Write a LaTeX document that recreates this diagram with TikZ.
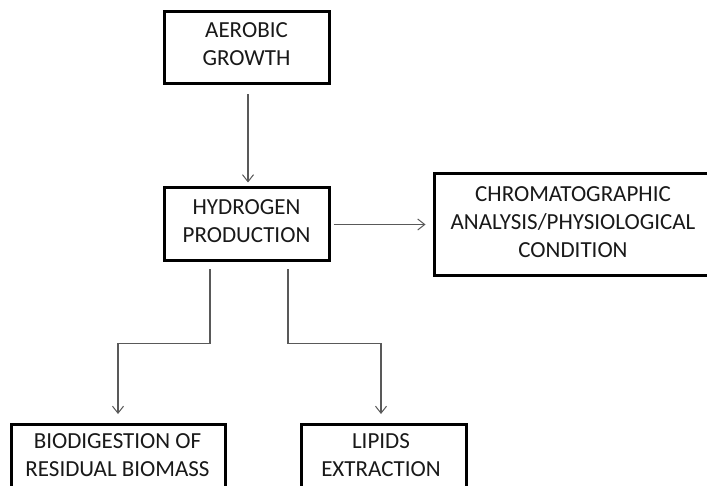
\documentclass[tikz,border=0pt]{standalone}
\usepackage{fontspec}
\setmainfont{Carlito}
\usetikzlibrary{arrows.meta}
\begin{document}
\begin{tikzpicture}[x=1pt,y=-1pt,
  box/.style={draw=black,line width=3pt,rectangle,inner sep=0pt,minimum width=#1},
  lbl/.style={align=center,inner sep=0pt,text=black!90,font=\fontsize{23}{28}\selectfont},
  conn/.style={draw=black!65,line width=1.1pt,-{Straight Barb[length=7pt,width=11pt,line width=1pt]}}
]
\useasboundingbox (0,0) rectangle (707,486);
\clip (0,0) rectangle (707,486);
\fill[white] (0,0) rectangle (707,486);
% boxes
\node[box=165pt,minimum height=72pt] (aer) at (246.5,48) {};
\node[box=165pt,minimum height=73pt] (hyd) at (246.5,224.5) {};
\node[box=276pt,minimum height=102pt] (chr) at (572,225) {};
\node[box=214pt,minimum height=74pt] (bio) at (118,461.5) {};
\node[box=165pt,minimum height=74pt] (lip) at (383.5,461.5) {};
% texts
\node[lbl] (aert) at (246.5,44.5) {AEROBIC\\GROWTH};
\node[lbl] (hydt) at (246.5,221.5) {HYDROGEN\\PRODUCTION};
\node[lbl] (chrt) at (573,222.5) {CHROMATOGRAPHIC\\ANALYSIS/PHYSIOLOGICAL\\CONDITION};
\node[lbl] (biot) at (117.5,455.5) {BIODIGESTION OF\\RESIDUAL BIOMASS};
\node[lbl] (lipt) at (381,455.5) {LIPIDS\\EXTRACTION};
% connectors
\draw[conn,shorten <=9pt,shorten >=4pt] ([xshift=1.5pt]aer.south) -- ([xshift=1.5pt]hyd.north);
\draw[conn,shorten <=3pt,shorten >=7pt] (hyd.east) -- (hyd.east -| chr.west);
\draw[conn,shorten <=7pt,shorten >=9pt] ([xshift=-36.5pt]hyd.south) -- ++(0,81) -| (bio.north);
\draw[conn,shorten <=7pt,shorten >=9pt] ([xshift=41.5pt]hyd.south) -- ++(0,81) -| ([xshift=-2.5pt]lip.north);
\end{tikzpicture}
\end{document}
